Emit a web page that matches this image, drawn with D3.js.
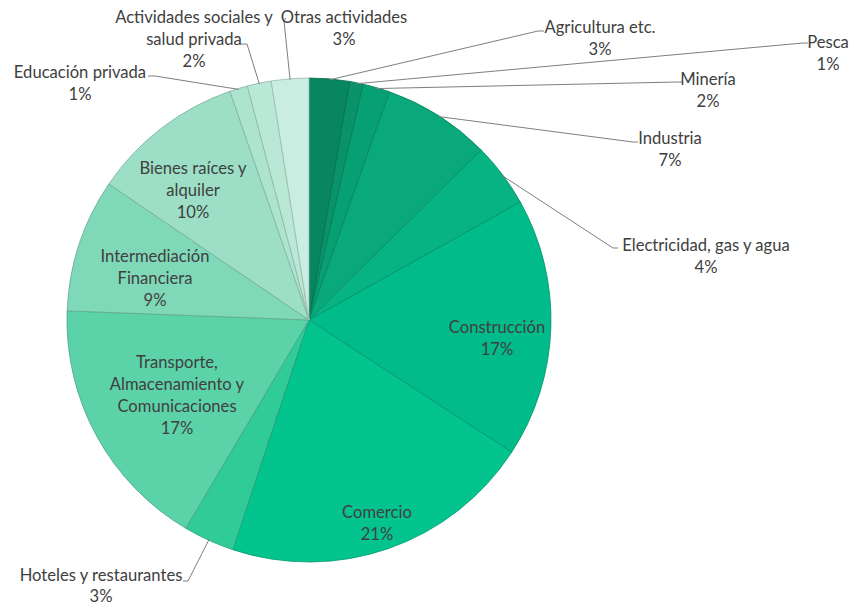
<!DOCTYPE html>
<html>
<head>
<meta charset="utf-8">
<script src="https://cdn.jsdelivr.net/npm/d3@7"></script>
<style>
  html, body { margin: 0; padding: 0; background: #ffffff; }
  svg { display: block; }
  text { font-family: Lato, "Open Sans", sans-serif; font-size: 16.6px; fill: #404040; }
</style>
</head>
<body>
<svg id="chart" width="852" height="605"></svg>
<script>
// ---- data ----
const sectors = [
  "Agricultura etc.", "Pesca", "Minería", "Industria", "Electricidad, gas y agua",
  "Construcción", "Comercio", "Hoteles y restaurantes",
  "Transporte, Almacenamiento y Comunicaciones", "Intermediación Financiera",
  "Bienes raíces y alquiler", "Educación privada",
  "Actividades sociales y salud privada", "Otras actividades"
];
const shares = [2.7, 0.9, 1.8, 7.2, 4.3, 17.3, 20.9, 3.4, 17.1, 8.9, 10.2, 1.2, 1.6, 2.5];
const colors = [
  "#078660", "#0a9268", "#07a072", "#0aa97b", "#07b383", "#02bb8a", "#03c48f",
  "#31cb98", "#5cd2a9", "#7fd8b8", "#9cdfc6", "#ade4cf", "#b9e8d6", "#c9eee1"
];

// ---- layout (positions only) ----
const labelLines = [
  ["Agricultura etc."], ["Pesca"], ["Minería"], ["Industria"], ["Electricidad, gas y agua"],
  ["Construcción"], ["Comercio"], ["Hoteles y restaurantes"],
  ["Transporte,", "Almacenamiento y", "Comunicaciones"], ["Intermediación", "Financiera"],
  ["Bienes raíces y", "alquiler"], ["Educación privada"],
  ["Actividades sociales y", "salud privada"], ["Otras actividades"]
];
const labelPos = [
  {x: 600, y: 27, elbow: [[538, 31], [544, 31]]},
  {x: 828, y: 42, elbow: [[803, 43], [808, 43]]},
  {x: 708, y: 79, elbow: [[677, 82], [682, 82]]},
  {x: 670, y: 138, elbow: [[633, 142], [638, 142]]},
  {x: 706, y: 245, elbow: [[613, 248], [618, 248]]},
  {x: 497, y: 327, elbow: null},
  {x: 377, y: 512, elbow: null},
  {x: 101, y: 575, elbow: [[188, 581], [183, 581]]},
  {x: 177, y: 362, elbow: null},
  {x: 155, y: 256, elbow: null},
  {x: 193, y: 168, elbow: null},
  {x: 80, y: 72, elbow: [[155, 76], [148, 76]]},
  {x: 194, y: 17, elbow: [[247, 44], [241, 44]]},
  {x: 344, y: 17, elbow: [[284, 21], [286, 18]]}
];
const lineH = 22;

const svg = d3.select("#chart");
const cx = 309, cy = 320, R = 242;

const pie = d3.pie().value(d => d).sort(null);
const arcs = pie(shares);
const arc = d3.arc().innerRadius(0).outerRadius(R);
const total = d3.sum(shares);

const g = svg.append("g").attr("transform", `translate(${cx},${cy})`);

g.selectAll("path.slice")
  .data(arcs)
  .join("path")
  .attr("class", "slice")
  .attr("d", arc)
  .attr("fill", (d, i) => colors[i])
  .attr("stroke", (d, i) => d3.color(colors[i]).darker(0.7))
  .attr("stroke-width", 0.8)
  .attr("stroke-linejoin", "round");

// leader lines
const leaders = svg.append("g");
arcs.forEach((d, i) => {
  const lp = labelPos[i];
  if (!lp.elbow) return;
  const mid = (d.startAngle + d.endAngle) / 2;
  const start = [cx + (R - 1) * Math.sin(mid), cy - (R - 1) * Math.cos(mid)];
  const pts = [start].concat(lp.elbow);
  leaders.append("path")
    .attr("d", d3.line()(pts))
    .attr("fill", "none")
    .attr("stroke", "#7f7f7f")
    .attr("stroke-width", 1);
});

// labels
const labels = svg.append("g");
arcs.forEach((d, i) => {
  const lp = labelPos[i];
  const lines = labelLines[i].concat([Math.round(shares[i] / total * 100) + "%"]);
  const t = labels.append("text")
    .attr("text-anchor", "middle")
    .attr("x", lp.x)
    .attr("y", lp.y);
  lines.forEach((s, k) => {
    t.append("tspan")
      .attr("x", lp.x)
      .attr("y", lp.y + k * (i === 7 ? 21 : lineH))
      .attr("dy", "0.35em")
      .text(s);
  });
});
</script>
</body>
</html>
